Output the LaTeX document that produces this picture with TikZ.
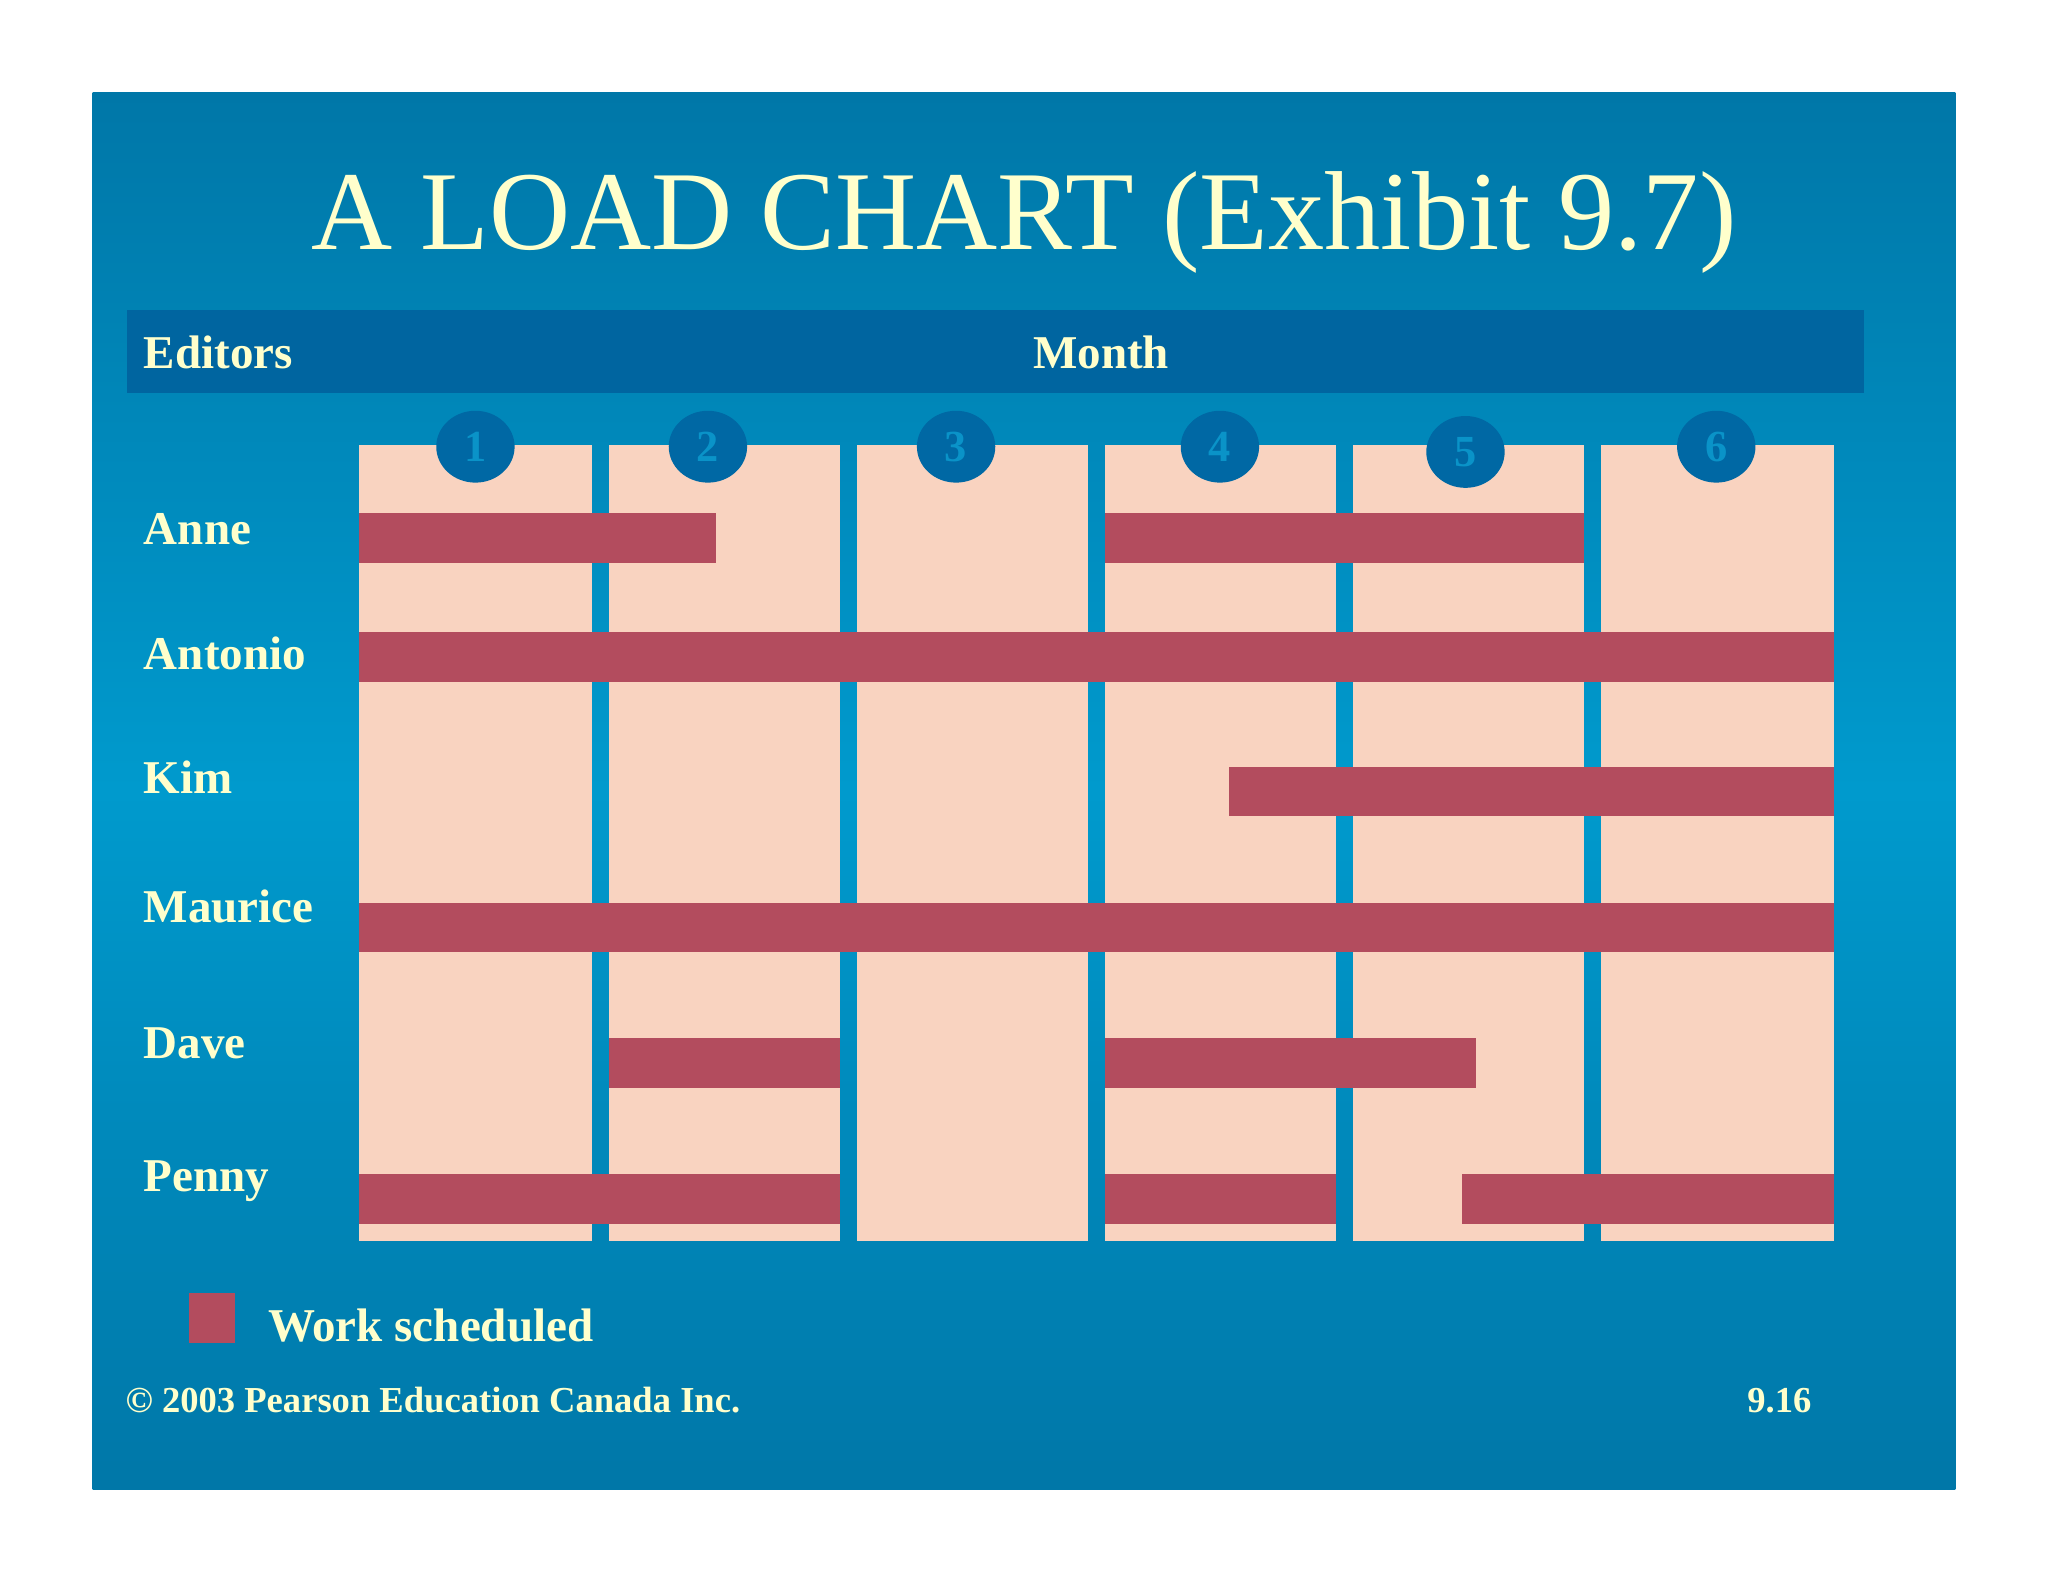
\documentclass[tikz,border=0pt]{standalone}
\usepackage{fontspec}
\usetikzlibrary{shapes.geometric}
\setmainfont{Liberation Serif}
\definecolor{cream}{HTML}{FFFFCC}
\definecolor{bluedark}{HTML}{0077A8}
\definecolor{bluemid}{HTML}{009ACD}
\definecolor{hdr}{HTML}{0065A0}
\definecolor{peach}{HTML}{F9D3C0}
\definecolor{barc}{HTML}{B34C5E}
\definecolor{circ}{HTML}{0068A4}
\definecolor{numc}{HTML}{0A93C8}
\begin{document}
\begin{tikzpicture}[x=1pt,y=-1pt,
  lbl/.style={text=cream,font=\bfseries\fontsize{36}{36}\selectfont,anchor=west,inner sep=0},
  num/.style={ellipse,fill=circ,minimum width=60,minimum height=55,inner sep=0,text=numc,font=\bfseries\fontsize{34}{34}\selectfont}]
\useasboundingbox (0,0) rectangle (1568,1211);
\fill[white] (0,0) rectangle (1568,1211);
\shade[top color=bluedark,bottom color=bluedark,middle color=bluemid] (71,71) rectangle (1497,1140);
\node[text=cream,font=\fontsize{86}{86}\selectfont,inner sep=0] (title) at (784,170) {A LOAD CHART (Exhibit 9.7)};
\fill[hdr] (97,237) rectangle (1427,301);
\node[lbl] (ed) at (110,270) {Editors};
\node[lbl,anchor=center] (mo) at (843,270) {Month};
\foreach \a/\b in {275/453,466/643,656/833,846/1023,1036/1213,1226/1404}
  \fill[peach] (\a,341) rectangle (\b,950);
\foreach \y/\a/\b in {393/275/548,393/846/1213,484/275/1404,587/941/1404,691/275/1404,795/466/643,795/846/1130,899/275/643,899/846/1023,899/1119/1404}
  \fill[barc] (\a,\y) rectangle (\b,\y+38);
\foreach \x/\y/\n in {364/342/1,542/342/2,732/342/3,934/342/4,1122/346/5,1314/342/6}
  \node[num] (c\n) at (\x,\y) {\n};
\node[lbl] (n1) at (110,405) {Anne};
\node[lbl] (n2) at (110,500) {Antonio};
\node[lbl] (n3) at (110,595) {Kim};
\node[lbl] (n4) at (110,694) {Maurice};
\node[lbl] (n5) at (110,799) {Dave};
\node[lbl] (n6) at (110,904) {Penny};
\fill[barc] (145,990) rectangle (180,1028);
\node[lbl] (leg) at (205,1015) {Work scheduled};
\node[lbl,font=\bfseries\fontsize{28}{28}\selectfont] (cp) at (96,1072) {© 2003 Pearson Education Canada Inc.};
\node[lbl,font=\bfseries\fontsize{28}{28}\selectfont,anchor=east] (pg) at (1387,1072) {9.16};
\end{tikzpicture}
\end{document}
